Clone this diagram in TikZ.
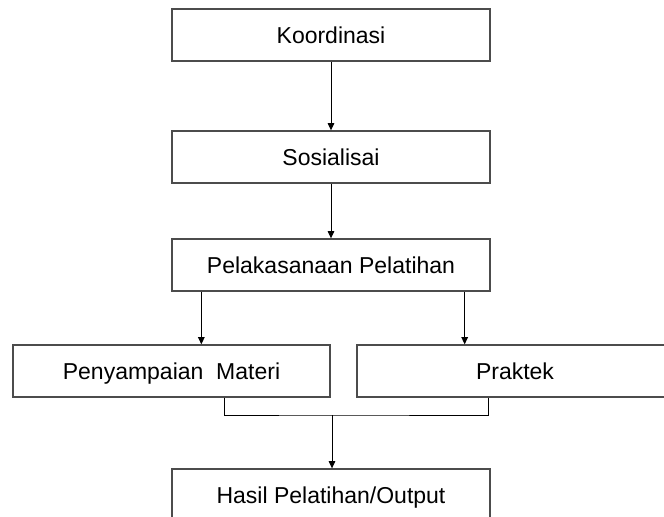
\documentclass[tikz,border=0pt]{standalone}
\usepackage{fontspec}
\setmainfont{Liberation Sans}
\usetikzlibrary{arrows.meta,calc}

\tikzset{kotak/.style={
    draw=black!70, line width=1pt, rectangle, inner sep=0pt,
    minimum width=#1*0.75pt, minimum height=39pt,
    text height=12.4pt, text depth=0pt,
    font=\fontsize{17.25}{20}\selectfont
  },
  kotak/.default=318,
  panah/.style={black, line width=0.75pt, -{Triangle[length=5.5pt,width=5pt]}}
}

\begin{document}
\begin{tikzpicture}[x=0.75pt, y=-0.75pt]
  \useasboundingbox (0,0) rectangle (664,517);
  % kotak-kotak alur
  \node [kotak] (koordinasi) at (331,35) {Koordinasi};
  \node [kotak] (sosialisasi) at (331,157) {Sosialisai};
  \node [kotak] (pelaksanaan) at (331,265) {Pelakasanaan Pelatihan};
  \node [kotak=317] (materi) at (171.5,371) {Penyampaian\ \ Materi};
  \node [kotak=316] (praktek) at (515,371) {Praktek};
  \node [kotak] (hasil) at (331,495) {Hasil Pelatihan/Output};

  \draw [panah] (koordinasi) -- (sosialisasi);
  \draw [panah] (sosialisasi) -- (pelaksanaan);
  \draw [panah] ($(pelaksanaan.south west)+(30,0)$) coordinate (kiri) -- (kiri |- materi.north);
  \draw [panah] ($(pelaksanaan.south east)+(-26,0)$) coordinate (kanan) -- (kanan |- praktek.north);

  % penggabung
  \coordinate (gabung) at (332,415);
  \draw [black, line width=0.75pt] ($(materi.south west)+(212,0)$) |- (gabung) -| ($(praktek.south west)+(132,0)$);
  \draw [panah] (gabung) -- (gabung |- hasil.north);
\end{tikzpicture}
\end{document}
